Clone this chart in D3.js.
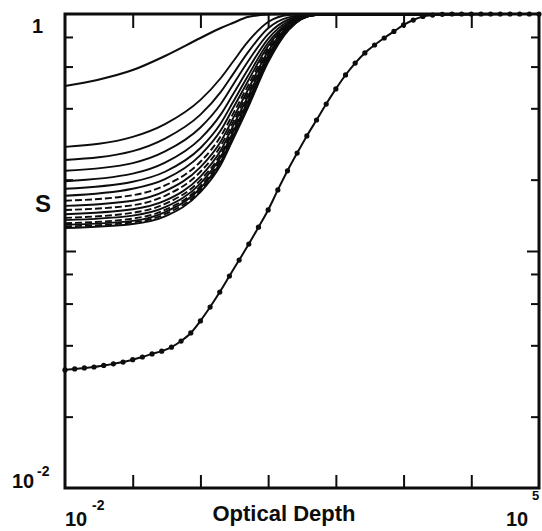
<!DOCTYPE html>
<html><head><meta charset="utf-8">
<script src="https://cdn.jsdelivr.net/npm/d3@7"></script>
<style>html,body{margin:0;padding:0;background:#fff;overflow:hidden}</style>
</head><body><svg id="c" width="542" height="531"></svg>
<script>
// ---- data ----
const xTicks = [0.1, 1, 10, 100, 1000, 10000];
const yMinorTicks = [0.8, 0.6, 0.4, 0.2, 0.08, 0.06, 0.04, 0.02];
const yMajorTicks = [0.1];

const tauTop = [0.01, 0.03, 0.1, 0.3, 1, 2, 3, 5, 10, 20, 1e5];
const sTop = [0.497, 0.527, 0.580, 0.665, 0.792, 0.873, 0.916, 0.971, 0.995, 1, 1];

const tauFamily = [0.01, 0.1, 0.3, 1, 2, 3, 5, 10, 20, 50, 1e5];
const familyCurves = [
  [0.275, 0.303, 0.343, 0.434, 0.537, 0.627, 0.762, 0.925, 0.990, 1, 1],
  [0.242, 0.264, 0.298, 0.376, 0.469, 0.555, 0.687, 0.870, 0.967, 1, 1],
  [0.218, 0.235, 0.263, 0.332, 0.417, 0.500, 0.629, 0.823, 0.948, 1, 1],
  [0.197, 0.212, 0.236, 0.298, 0.377, 0.456, 0.582, 0.786, 0.932, 1, 1],
  [0.183, 0.196, 0.216, 0.272, 0.346, 0.423, 0.546, 0.756, 0.918, 1, 1],
  [0.171, 0.183, 0.201, 0.254, 0.323, 0.398, 0.519, 0.733, 0.907, 1, 1],
  [0.163, 0.172, 0.189, 0.238, 0.305, 0.377, 0.496, 0.713, 0.899, 0.995, 1],
  [0.155, 0.163, 0.179, 0.226, 0.290, 0.361, 0.477, 0.697, 0.890, 0.995, 1],
  [0.149, 0.156, 0.171, 0.216, 0.278, 0.347, 0.462, 0.683, 0.884, 0.995, 1],
  [0.143, 0.150, 0.163, 0.206, 0.266, 0.335, 0.447, 0.670, 0.877, 0.99, 1],
  [0.138, 0.145, 0.158, 0.199, 0.257, 0.324, 0.436, 0.660, 0.873, 0.99, 1],
  [0.135, 0.141, 0.153, 0.193, 0.250, 0.316, 0.427, 0.651, 0.868, 0.99, 1],
  [0.131, 0.137, 0.149, 0.188, 0.244, 0.309, 0.418, 0.643, 0.864, 0.99, 1],
  [0.129, 0.134, 0.146, 0.184, 0.238, 0.303, 0.411, 0.637, 0.861, 0.99, 1],
  [0.127, 0.132, 0.143, 0.180, 0.234, 0.299, 0.406, 0.632, 0.859, 0.99, 1],
  [0.125, 0.130, 0.140, 0.177, 0.231, 0.294, 0.401, 0.627, 0.856, 0.99, 1]
];
const familyDashed = [false,false,false,false,false,false,true,false,true,false,true,false,true,false,true,false];

const tauDotted = [0.01,0.0139,0.0193,0.0268,0.0373,0.0518,0.072,
  0.1,0.139,0.193,0.268,0.373,0.518,0.72,
  1,1.39,1.93,2.68,3.73,5.18,7.2,
  10,13.9,19.3,26.8,37.3,51.8,72,
  100,139,193,268,373,518,720,
  1000,1390,1930,2680,3730,5180,7200,
  10000,13900,19300,26800,37300,51800,72000,100000];
const sDotted = [0.0315,0.0318,0.0321,0.0324,0.0329,0.0334,0.0340,
  0.0348,0.0357,0.0368,0.0378,0.0393,0.0417,0.0451,
  0.0507,0.0580,0.0671,0.0784,0.0916,0.107,0.126,
  0.149,0.181,0.218,0.259,0.306,0.357,0.417,
  0.483,0.553,0.621,0.685,0.740,0.792,0.844,
  0.899,0.943,0.976,0.990,0.997,1,1,
  1,1,1,1,1,1,1,1];

// ---- chart ----
const L = 65, R = 539, T = 14, B = 488;
const svg = d3.select("#c");
const x = d3.scaleLog().domain([0.01, 1e5]).range([L, R]);
const y = d3.scaleLog().domain([0.01, 1]).range([B, T]);
const font = "'Liberation Sans', Arial, Helvetica, sans-serif";
const ink = "#0d0d0d";

const line = d3.line().x(d => x(d[0])).y(d => y(d[1])).curve(d3.curveMonotoneX);

// family curves
familyCurves.forEach((vals, i) => {
  svg.append("path")
    .datum(tauFamily.map((t, j) => [t, vals[j]]))
    .attr("d", line)
    .attr("fill", "none")
    .attr("stroke", ink)
    .attr("stroke-width", 1.9)
    .attr("stroke-dasharray", familyDashed[i] ? "7,3" : null);
});

// top curve
svg.append("path")
  .datum(tauTop.map((t, j) => [t, sTop[j]]))
  .attr("d", line)
  .attr("fill", "none").attr("stroke", ink).attr("stroke-width", 2.1);

// axes ticks
function styleAxis(g) {
  g.select(".domain").remove();
  g.selectAll(".tick line").attr("stroke", ink).attr("stroke-width", 2);
  g.selectAll(".tick text").remove();
}
svg.append("g").attr("transform", `translate(0,${B})`)
  .call(d3.axisBottom(x).tickValues(xTicks).tickSize(-13).tickFormat("")).call(styleAxis);
svg.append("g").attr("transform", `translate(0,${T})`)
  .call(d3.axisTop(x).tickValues(xTicks).tickSize(-14).tickFormat("")).call(styleAxis);
svg.append("g").attr("transform", `translate(${L},0)`)
  .call(d3.axisLeft(y).tickValues(yMinorTicks).tickSize(-8).tickFormat("")).call(styleAxis);
svg.append("g").attr("transform", `translate(${L},0)`)
  .call(d3.axisLeft(y).tickValues(yMajorTicks).tickSize(-11).tickFormat("")).call(styleAxis);
svg.append("g").attr("transform", `translate(${R},0)`)
  .call(d3.axisRight(y).tickValues(yMinorTicks).tickSize(-8).tickFormat("")).call(styleAxis);
svg.append("g").attr("transform", `translate(${R},0)`)
  .call(d3.axisRight(y).tickValues(yMajorTicks).tickSize(-12).tickFormat("")).call(styleAxis);

// frame
svg.append("rect").attr("x", L).attr("y", T).attr("width", R - L).attr("height", B - T)
  .attr("fill", "none").attr("stroke", ink).attr("stroke-width", 3);

// dotted curve
const dotData = tauDotted.map((t, j) => [t, sDotted[j]]);
svg.append("path").datum(dotData).attr("d", line)
  .attr("fill", "none").attr("stroke", ink).attr("stroke-width", 2);
svg.selectAll("circle.dot").data(dotData).enter().append("circle")
  .attr("class", "dot")
  .attr("cx", d => x(d[0])).attr("cy", d => y(d[1])).attr("r", 2.6)
  .attr("fill", ink);

// labels
function label(txt, xx, yy, size, anchor) {
  return svg.append("text").attr("x", xx).attr("y", yy)
    .attr("font-family", font).attr("font-weight", "bold")
    .attr("font-size", size).attr("fill", ink)
    .attr("text-anchor", anchor || "start").text(txt);
}
label("1", 43, 33, 20, "end");
label("S", 43, 212, 24, "middle");
label("10", 12, 488, 20);
label("-2", 37, 476, 14);
label("10", 65, 526, 20);
label("-2", 92, 510, 14);
label("10", 506, 526, 20);
label("5", 532, 500, 13);
label("Optical Depth", 284, 521, 22, "middle");
</script></body></html>
